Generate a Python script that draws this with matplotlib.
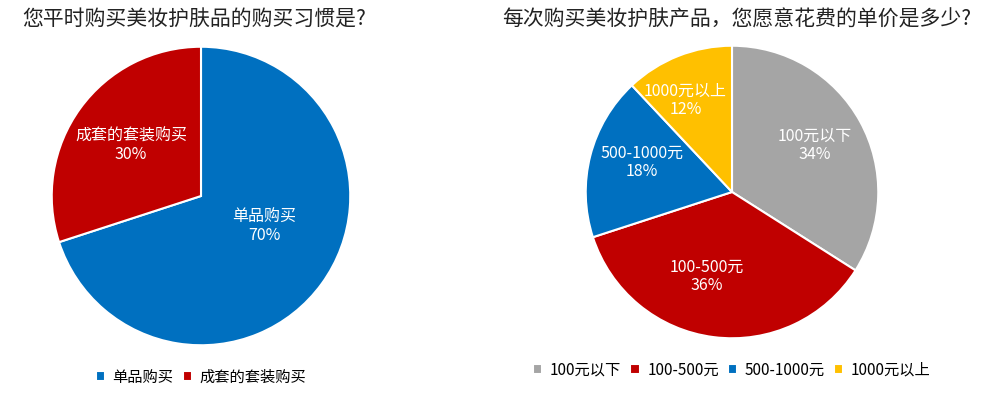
import numpy as np
import matplotlib.pyplot as plt

plt.rcParams['font.family'] = ['Noto Sans CJK SC', 'DejaVu Sans']

# left chart data
habit_labels = ['单品购买', '成套的套装购买']
habit_values = [70, 30]
habit_colors = ['#0070C0', '#C00000']

# right chart data
price_labels = ['100元以下', '100-500元', '500-1000元', '1000元以上']
price_values = [34, 36, 18, 12]
price_colors = ['#A5A5A5', '#C00000', '#0070C0', '#FFC000']

W, H = 1004, 394
fig = plt.figure(figsize=(W / 100, H / 100), dpi=100)


def px_axes(x0, y0, w, h):
    # pixel box (top-left origin) -> figure fraction
    return fig.add_axes([x0 / W, (H - y0 - h) / H, w / W, h / H])


def draw_pie(ax, labels, values, colors, place):
    # place: (angle shift from wedge middle, radius) for each label
    wedges, _ = ax.pie(values, colors=colors, startangle=90, counterclock=False,
                       wedgeprops=dict(edgecolor='white', linewidth=1.5))
    for w, l, v, (shift, r) in zip(wedges, labels, values, place):
        a = np.deg2rad((w.theta1 + w.theta2) / 2 + shift)
        ax.text(r * np.cos(a), r * np.sin(a), f'{l}\n{v}%', color='white',
                fontsize=11.5, ha='center', va='center', linespacing=1.1)
    ax.set_xlim(-1.005, 1.005)
    ax.set_ylim(-1.005, 1.005)
    ax.set_aspect('equal')
    return wedges


ax1 = px_axes(51, 46, 300, 300)
w1 = draw_pie(ax1, habit_labels, habit_values, habit_colors,
              [(10.5, 0.47), (0, 0.58)])

ax2 = px_axes(585, 45, 294, 294)
w2 = draw_pie(ax2, price_labels, price_values, price_colors,
              [(0.5, 0.65), (-9.4, 0.6), (-3.6, 0.65), (5.4, 0.7)])

fig.text(22 / W, 1 - 20 / H, '您平时购买美妆护肤品的购买习惯是?', fontsize=15,
         ha='left', va='center', color='#222222')
fig.text(502 / W, 1 - 20 / H, '每次购买美妆护肤产品，您愿意花费的单价是多少?', fontsize=15,
         ha='left', va='center', color='#222222')

leg_kw = dict(loc='center', ncol=4, frameon=False, fontsize=11,
              handlelength=0.6, handleheight=0.6, handletextpad=0.5,
              columnspacing=0.6, borderaxespad=0)
fig.legend(w1, habit_labels, bbox_to_anchor=(201 / W, 1 - 377 / H), **leg_kw)
fig.legend(w2, price_labels, bbox_to_anchor=(732 / W, 1 - 370 / H), **leg_kw)

fig.savefig('out.png', dpi=100, facecolor='white')
